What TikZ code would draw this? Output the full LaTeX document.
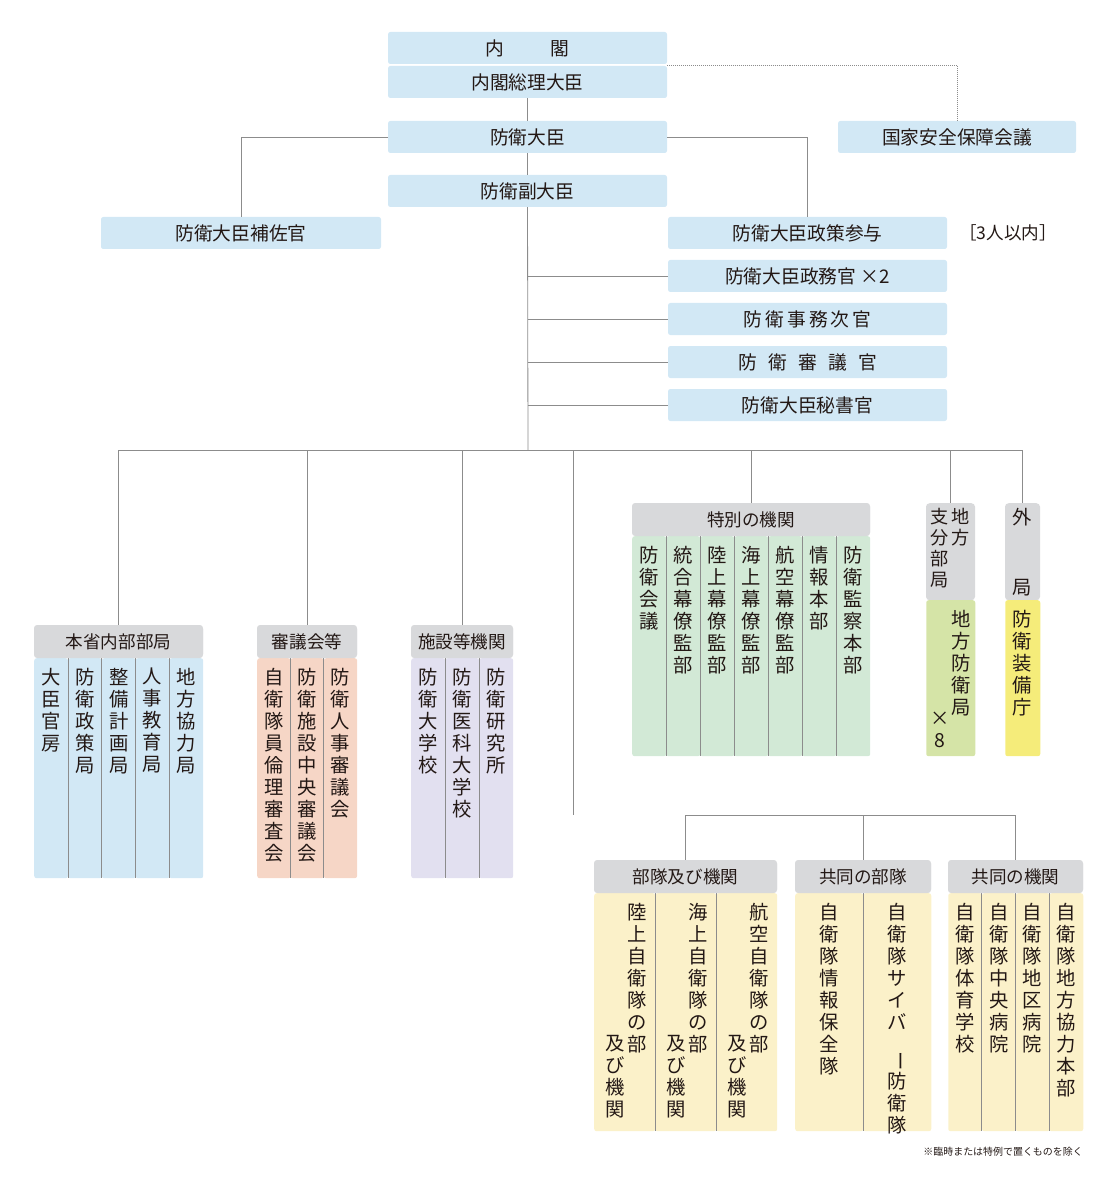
\documentclass[tikz,border=0pt]{standalone}
\usepackage{fontspec}
\usepackage{graphicx}
\setmainfont{Noto Sans CJK JP}
\usetikzlibrary{positioning}
\definecolor{cblue}{HTML}{D2E8F5}
\definecolor{chead}{HTML}{D8D9DB}
\definecolor{csalmon}{HTML}{F6D6C6}
\definecolor{clav}{HTML}{E2E0F0}
\definecolor{cgreen}{HTML}{D2E9D6}
\definecolor{clime}{HTML}{D5E4A7}
\definecolor{cyel}{HTML}{F5EC7A}
\definecolor{ccream}{HTML}{FBF1C9}
\definecolor{cline}{HTML}{8C8C8C}
\definecolor{ctxt}{HTML}{231815}
\def\u{0.03cm}
\tikzset{
  box/.style={fill=cblue, rounded corners=2pt, inner sep=0, minimum height=32*\u,
    text=ctxt, font=\fontsize{16}{18}\selectfont},
  head/.style={fill=chead, rounded corners=3pt, inner sep=0, minimum height=33*\u,
    text=ctxt, font=\fontsize{15}{17}\selectfont},
  colbox/.style={rounded corners=2pt, inner sep=0, anchor=north west},
  vt/.style={align=center, inner sep=0, anchor=north, text=ctxt,
    font=\fontsize{16.5}{18.8}\selectfont},
  conn/.style={draw=cline, line width=0.7pt},
}
\begin{document}
\begin{tikzpicture}[x=0.03cm, y=-0.03cm]
    \useasboundingbox (0,0) rectangle (1116,1189);
    % upper part
    \node[box, minimum width=279*\u] (naikaku) at (527.5,48) {内\hspace{2.5em}閣};
    \node[box, minimum width=279*\u] (sori) at (527.5,82) {内閣総理大臣};
    \node[box, minimum width=279*\u] (daijin) at (527.5,137) {防衛大臣};
    \node[box, minimum width=279*\u] (fuku) at (527.5,191) {防衛副大臣};
    \node[box, minimum width=238*\u] (nss) at (957,137) {国家安全保障会議};
    \node[box, minimum width=280*\u] (hosa) at (241,233) {防衛大臣補佐官};
    \node[box, minimum width=279*\u] (sanyo) at (807.5,233) {防衛大臣政策参与};
    \node[text=ctxt, font=\fontsize{15}{17}\selectfont, right=8*\u of sanyo] (sanyonote) {［3人以内］};
    \node[box, minimum width=279*\u] (seimu) at (807.5,276) {防衛大臣政務官 ×2};
    \node[box, minimum width=279*\u] (jimu) at (807.5,319) {防\,衛\,事\,務\,次\,官};
    \node[box, minimum width=279*\u] (shingi) at (807.5,362) {防\hspace{0.6em}衛\hspace{0.6em}審\hspace{0.6em}議\hspace{0.6em}官};
    \node[box, minimum width=279*\u] (hisho) at (807.5,405) {防衛大臣秘書官};
    \draw[conn] (sori) -- (daijin);
    \draw[conn] (daijin) -- (fuku);
    \draw[conn] (daijin.west) -| (hosa.north);
    \draw[conn] (daijin.east) -| (sanyo.north);
    \draw[conn, densely dotted] (667,65) -| (nss.north);
    \coordinate (bus) at (528,450);
    \draw[conn] (fuku.south) -- (bus);
    \foreach \n in {seimu,jimu,shingi,hisho}
        \draw[conn] (fuku.south |- \n.west) -- (\n.west);
    % headers of the groups
    \node[head, minimum width=169*\u] (honsho) at (118.5,641.5) {本省内部部局};
    \node[head, minimum width=100*\u] (shingikai) at (307,641.5) {審議会等};
    \node[head, minimum width=102*\u] (shisetsu) at (462,641.5) {施設等機関};
    \node[head, minimum width=238*\u] (tokubetsu) at (751,519.5) {特別の機関};
    \node[head, minimum width=49*\u, minimum height=97*\u, anchor=north] (chiho) at (950.5,503) {};
    \node[vt, font=\fontsize{15.5}{18}\selectfont] at (961,508) {地\\方};
    \node[vt, font=\fontsize{15.5}{18}\selectfont] at (940,508) {支\\分\\部\\局};
    \node[head, minimum width=35*\u, minimum height=97*\u, anchor=north] (gaikyoku) at (1022.5,503) {};
    \node[vt] at (1022.5,508) {外};
    \node[vt, anchor=south] at (1022.5,596) {局};
    \coordinate (bus2) at (573,815);
    \node[head, minimum width=183*\u] (butai) at (685.5,876.5) {部隊及び機関};
    \node[head, minimum width=136*\u] (kyobutai) at (863,876.5) {共同の部隊};
    \node[head, minimum width=135*\u] (kyokikan) at (1015.5,876.5) {共同の機関};
    % connectors to the groups
    \draw[conn] (honsho.north |- bus) -- (gaikyoku.north |- bus);
    \foreach \n in {honsho,shingikai,shisetsu,tokubetsu,chiho,gaikyoku}
        \draw[conn] (\n.north |- bus) -- (\n.north);
    \draw[conn] (bus -| bus2) -- (bus2);
    \draw[conn] (butai.north |- bus2) -- (kyokikan.north |- bus2);
    \foreach \n in {butai,kyobutai,kyokikan}
        \draw[conn] (\n.north |- bus2) -- (\n.north);
    % columns
    \foreach \t [count=\i from 0] in {{大\\臣\\官\\房},{防\\衛\\政\\策\\局},{整\\備\\計\\画\\局},{人\\事\\教\\育\\局},{地\\方\\協\\力\\局}} {
        \node[colbox, fill=cblue, minimum width=33.8*\u, minimum height=220*\u] (hon\i) at ({34+\i*33.8},658) {};
        \node[vt] at ([yshift=-10*\u]hon\i.north) {\t};
        \ifnum\i>0 \draw[cline, line width=0.5pt] (hon\i.north west) -- (hon\i.south west); \fi
    }
    \foreach \t [count=\i from 0] in {{自\\衛\\隊\\員\\倫\\理\\審\\査\\会},{防\\衛\\施\\設\\中\\央\\審\\議\\会},{防\\衛\\人\\事\\審\\議\\会}} {
        \node[colbox, fill=csalmon, minimum width=33.3*\u, minimum height=220*\u] (shin\i) at ({257+\i*33.3},658) {};
        \node[vt] at ([yshift=-10*\u]shin\i.north) {\t};
        \ifnum\i>0 \draw[cline, line width=0.5pt] (shin\i.north west) -- (shin\i.south west); \fi
    }
    \foreach \t [count=\i from 0] in {{防\\衛\\大\\学\\校},{防\\衛\\医\\科\\大\\学\\校},{防\\衛\\研\\究\\所}} {
        \node[colbox, fill=clav, minimum width=34*\u, minimum height=220*\u] (shi\i) at ({411+\i*34},658) {};
        \node[vt] at ([yshift=-10*\u]shi\i.north) {\t};
        \ifnum\i>0 \draw[cline, line width=0.5pt] (shi\i.north west) -- (shi\i.south west); \fi
    }
    \foreach \t [count=\i from 0] in {{防\\衛\\会\\議},{統\\合\\幕\\僚\\監\\部},{陸\\上\\幕\\僚\\監\\部},{海\\上\\幕\\僚\\監\\部},{航\\空\\幕\\僚\\監\\部},{情\\報\\本\\部},{防\\衛\\監\\察\\本\\部}} {
        \node[colbox, fill=cgreen, minimum width=34*\u, minimum height=220*\u] (tok\i) at ({632+\i*34},536) {};
        \node[vt] at ([yshift=-10*\u]tok\i.north) {\t};
        \ifnum\i>0 \draw[cline, line width=0.5pt] (tok\i.north west) -- (tok\i.south west); \fi
    }
    \node[colbox, fill=clime, minimum width=49*\u, minimum height=156*\u] (boei) at (926,600) {};
    \node[vt] at (961,610) {地\\方\\防\\衛\\局};
    \node[vt, anchor=south] at (940,748) {×\\8};
    \node[colbox, fill=cyel, minimum width=35*\u, minimum height=156*\u] (sobi) at (1005,600) {};
    \node[vt] at (1022.5,610) {防\\衛\\装\\備\\庁};
    \foreach \a [count=\i from 0] in {{陸\\上},{海\\上},{航\\空}} {
        \node[colbox, fill=ccream, minimum width=61*\u, minimum height=238*\u] (bu\i) at ({594+\i*61},893) {};
        \node[vt] at ([xshift=12*\u, yshift=-10*\u]bu\i.north) {\a\\自\\衛\\隊\\の\\部};
        \node[vt] at ([xshift=-10*\u, yshift=-142*\u]bu\i.north) {及\\び\\機\\関};
        \ifnum\i>0 \draw[cline, line width=0.5pt] (bu\i.north west) -- (bu\i.south west); \fi
    }
    \foreach \t [count=\i from 0] in {{自\\衛\\隊\\情\\報\\保\\全\\隊},{自\\衛\\隊\\サ\\イ\\バ\\\rotatebox{-90}{ー}\\防\\衛\\隊}} {
        \node[colbox, fill=ccream, minimum width=68*\u, minimum height=238*\u] (kb\i) at ({795+\i*68},893) {};
        \node[vt] at ([yshift=-10*\u]kb\i.north) {\t};
        \ifnum\i>0 \draw[cline, line width=0.5pt] (kb\i.north west) -- (kb\i.south west); \fi
    }
    \foreach \t [count=\i from 0] in {{自\\衛\\隊\\体\\育\\学\\校},{自\\衛\\隊\\中\\央\\病\\院},{自\\衛\\隊\\地\\区\\病\\院},{自\\衛\\隊\\地\\方\\協\\力\\本\\部}} {
        \node[colbox, fill=ccream, minimum width=33.75*\u, minimum height=238*\u] (kk\i) at ({948+\i*33.75},893) {};
        \node[vt] at ([yshift=-10*\u]kk\i.north) {\t};
        \ifnum\i>0 \draw[cline, line width=0.5pt] (kk\i.north west) -- (kk\i.south west); \fi
    }
    % headers again on top of the columns
    \node[head, minimum width=169*\u] at (honsho) {本省内部部局};
    \node[head, minimum width=100*\u] at (shingikai) {審議会等};
    \node[head, minimum width=102*\u] at (shisetsu) {施設等機関};
    \node[head, minimum width=238*\u] at (tokubetsu) {特別の機関};
    \node[head, minimum width=183*\u] at (butai) {部隊及び機関};
    \node[head, minimum width=136*\u] at (kyobutai) {共同の部隊};
    \node[head, minimum width=135*\u] at (kyokikan) {共同の機関};
    \node[anchor=east, inner sep=0, text=ctxt, font=\fontsize{8.5}{10}\selectfont] (note) at (1083,1152) {※臨時または特例で置くものを除く};
\end{tikzpicture}
\end{document}
